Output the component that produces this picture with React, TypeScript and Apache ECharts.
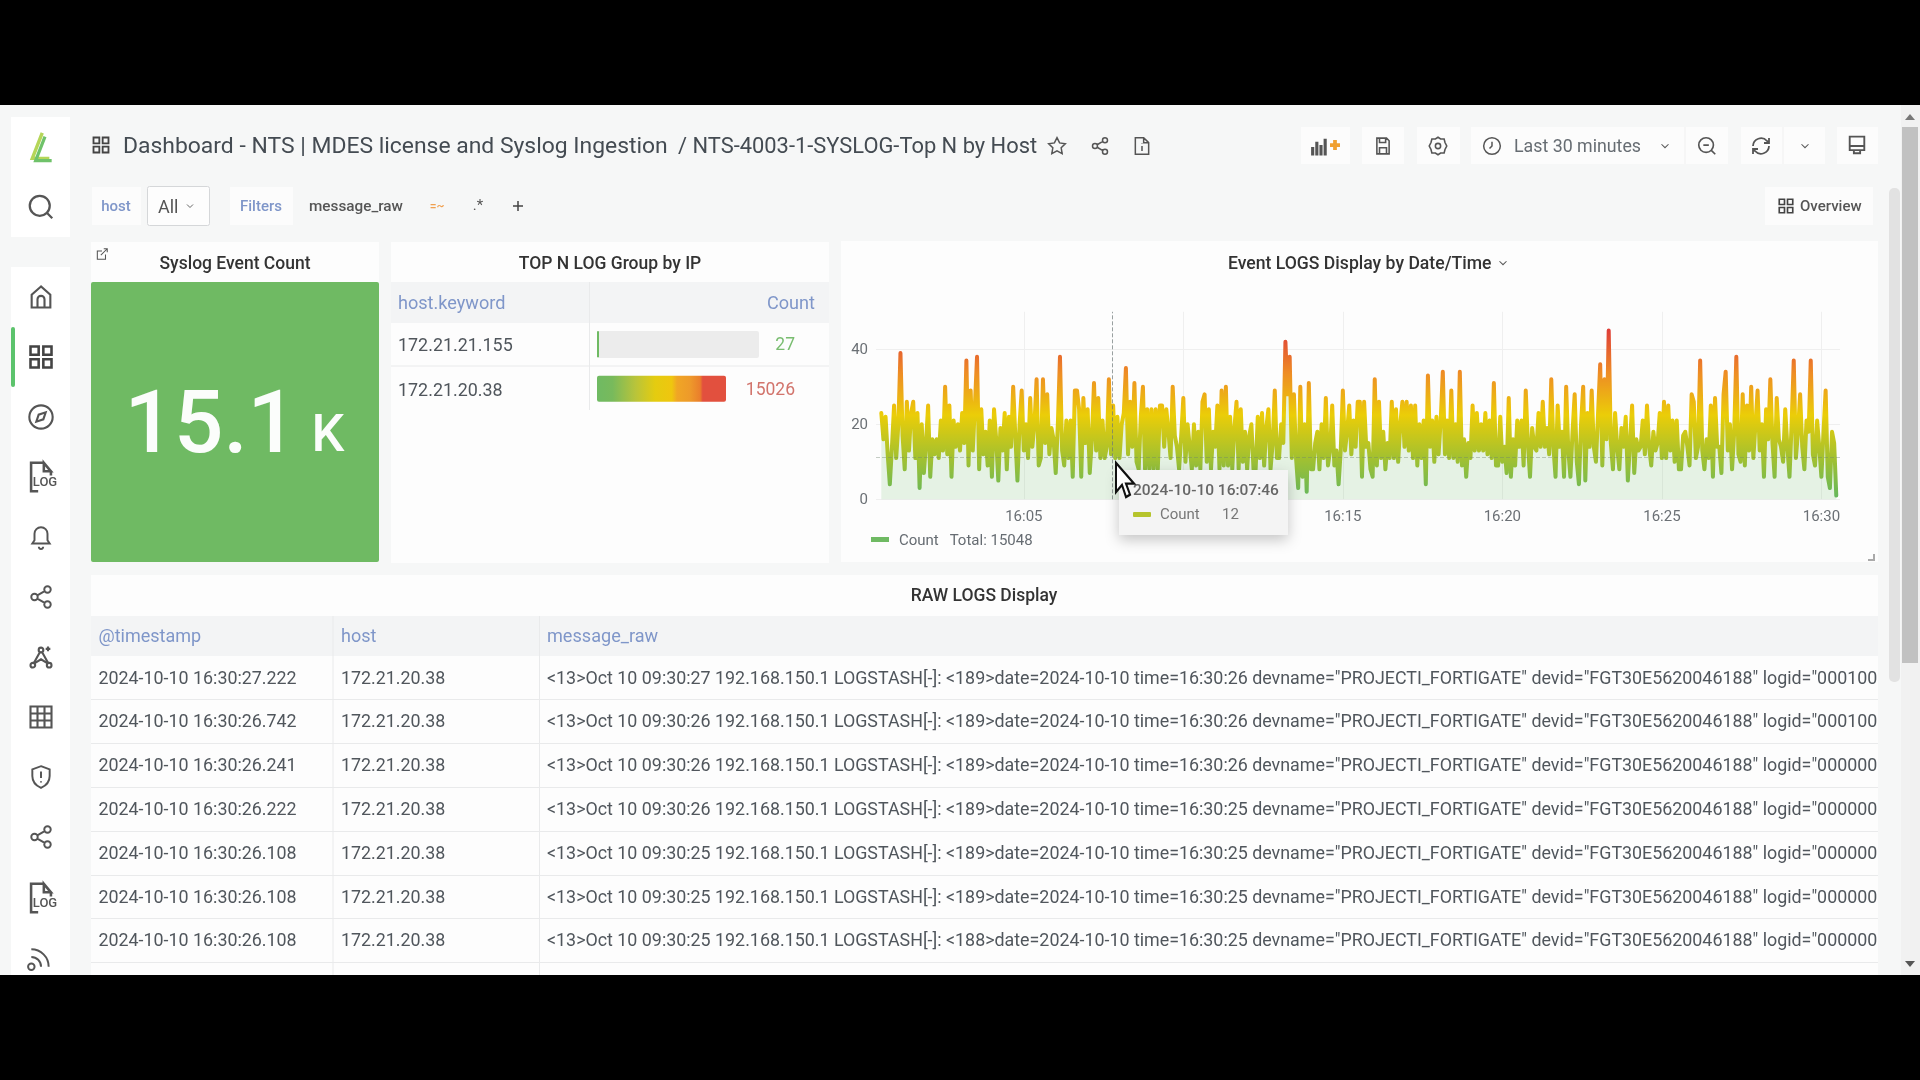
import React, { useEffect, useRef } from "react";
import * as echarts from "echarts";

// Count per 4 s, one list per stretch of about five minutes.
const countsA = [23,16,22,12,4,14,25,11,20,39,17,8,26,13,23,26,11,23,3,20,7,15,25,6,16,12,16,11,21,13,30,12,25,6,21,14,20,13,23,15,37,9,29,13,25,38,8,24,12,18,9,21,6,24,16,5,19,13,23,8,22,14,30,17,5,20,29,13,20,11,27,14,20,32,9];
const countsB = [11,32,15,28,12,19,16,7,20,38,13,9,21,11,21,6,29,29,24,6,27,15,24,7,16,31,13,27,11,21,11,14,32,12,25,11,22,11,20,23,35,12,26,14,31,10,8,22,30,8,24,8,24,8,24,8,25,25,14,24,18,11,30,17,14,8,17,27,10,20,14,8,20,9,18];
const countsC = [8,26,28,10,24,8,18,14,25,8,29,9,30,9,22,8,19,26,8,24,10,18,8,17,20,8,8,22,11,23,9,19,24,8,15,29,11,11,20,15,42,28,38,11,28,11,3,30,6,20,2,31,8,8,15,18,8,20,11,27,9,13,25,9,13,4,13,29,13,18,25,12,21,14,26];
const countsD = [26,6,26,14,15,8,6,32,9,26,11,18,8,15,11,26,11,24,10,20,26,14,26,13,25,11,25,9,20,11,21,4,33,14,21,10,22,12,21,34,12,21,11,29,11,20,10,34,9,16,6,15,11,25,13,23,13,20,13,23,12,21,11,31,9,9,22,10,14,7,27,6,16,9,21];
const countsE = [14,21,9,29,15,6,19,14,13,23,14,26,14,19,12,32,14,6,25,14,18,6,30,13,6,18,28,10,4,20,30,5,23,14,29,14,10,23,36,9,32,16,45,15,8,23,14,8,19,14,22,5,15,25,7,16,13,14,21,12,25,14,9,18,13,15,23,11,26,11,25,13,21,10,21,8];
const countsF = [8,17,18,14,9,28,26,11,14,37,13,8,16,11,25,6,27,14,14,7,28,34,13,20,8,18,38,12,10,28,9,25,13,30,11,20,29,13,20,6,24,16,32,15,6,27,16,14,10,24,14,6,20,37,11,18,28,14,8,21,18,37,12,9,21,14,6,18,29,6,3,18,15,1];
const yTicks = { min: 0, max: 50, interval: 20 };
const gridMinutes = [5, 10, 15, 20, 25, 30];
const labelMinutes = [5, 15, 20, 25, 30]; // 16:10 lies under the tooltip in the picture
const hosts = ["172.21.21.155", "172.21.20.38"];
const hostCounts = [27, 15026];
const logStamps = ["2024-10-10 16:30:27.222","2024-10-10 16:30:26.742","2024-10-10 16:30:26.241","2024-10-10 16:30:26.222","2024-10-10 16:30:26.108","2024-10-10 16:30:26.108","2024-10-10 16:30:26.108"];
const logMessages = [
 '<13>Oct 10 09:30:27 192.168.150.1 LOGSTASH[-]: <189>date=2024-10-10 time=16:30:26 devname="PROJECTI_FORTIGATE" devid="FGT30E5620046188" logid="000100',
 '<13>Oct 10 09:30:26 192.168.150.1 LOGSTASH[-]: <189>date=2024-10-10 time=16:30:26 devname="PROJECTI_FORTIGATE" devid="FGT30E5620046188" logid="000100',
 '<13>Oct 10 09:30:26 192.168.150.1 LOGSTASH[-]: <189>date=2024-10-10 time=16:30:26 devname="PROJECTI_FORTIGATE" devid="FGT30E5620046188" logid="000000',
 '<13>Oct 10 09:30:26 192.168.150.1 LOGSTASH[-]: <189>date=2024-10-10 time=16:30:25 devname="PROJECTI_FORTIGATE" devid="FGT30E5620046188" logid="000000',
 '<13>Oct 10 09:30:25 192.168.150.1 LOGSTASH[-]: <189>date=2024-10-10 time=16:30:25 devname="PROJECTI_FORTIGATE" devid="FGT30E5620046188" logid="000000',
 '<13>Oct 10 09:30:25 192.168.150.1 LOGSTASH[-]: <189>date=2024-10-10 time=16:30:25 devname="PROJECTI_FORTIGATE" devid="FGT30E5620046188" logid="000000',
 '<13>Oct 10 09:30:25 192.168.150.1 LOGSTASH[-]: <188>date=2024-10-10 time=16:30:25 devname="PROJECTI_FORTIGATE" devid="FGT30E5620046188" logid="000000',
];

const icons: Record<string, string> = {
  search: "M11 3a8 8 0 1 0 0 16a8 8 0 1 0 0-16zM21 21l-4.35-4.35",
  home: "M12 3L4 10v11h16V10zM9 21v-7a3 3 0 0 1 6 0v7",
  gridIcon: "M3 3h7v7H3zM14 3h7v7h-7zM14 14h7v7h-7zM3 14h7v7H3z",
  compass: "M12 2a10 10 0 1 0 0 20a10 10 0 1 0 0-20zM16 8l-2 6l-6 2l2-6z",
  logfile: "M14 2H5v20h5M14 2l5 6h-5zM19 8v3",
  bell: "M12 3a6 6 0 0 0-6 6v6l-2 3h16l-2-3V9a6 6 0 0 0-6-6zM10 21a2 2 0 0 0 4 0",
  share: "M18 2a3 3 0 1 0 0 6a3 3 0 1 0 0-6zM6 9a3 3 0 1 0 0 6a3 3 0 1 0 0-6zM18 16a3 3 0 1 0 0 6a3 3 0 1 0 0-6zM8.6 13.5l6.8 4M15.4 6.5l-6.8 4",
  graphIcon: "M12 4a2 2 0 1 0 0 4a2 2 0 1 0 0-4zM5 17a2 2 0 1 0 0 4a2 2 0 1 0 0-4zM19 17a2 2 0 1 0 0 4a2 2 0 1 0 0-4zM11 8l-5 9M13 8l5 9M7 17l5-3l5 3M18 3v4M16 5h4",
  tableIcon: "M3 3h18v18H3zM3 9h18M3 15h18M9 3v18M15 3v18",
  shield: "M12 2l8 3v6c0 5-3.5 9-8 11c-4.5-2-8-6-8-11V5zM12 7v6M12 16v1",
  rss: "M4 11a9 9 0 0 1 9 9M4 4a16 16 0 0 1 16 16M4 17a3 3 0 1 0 0 6a3 3 0 1 0 0-6z",
  star: "M12 2l3.1 6.3l6.9 1l-5 4.9l1.2 6.9l-6.2-3.3l-6.2 3.3l1.2-6.9l-5-4.9l6.9-1z",
  fileinfo: "M14 2H4v20h16V8zM14 2v6h6M12 12v6M12 9v.5",
  clock: "M12 2a10 10 0 1 0 0 20a10 10 0 1 0 0-20zM12 7v5l-3 3",
  zoomout: "M11 3a8 8 0 1 0 0 16a8 8 0 1 0 0-16zM21 21l-4-4M8 11h6",
  refresh: "M4 12a8 8 0 0 1 14-5l2 2M20 4v5h-5M20 12a8 8 0 0 1-14 5l-2-2M4 20v-5h5",
  monitor: "M5 3h14v13H5zM5 12h14M9 16v3h6v-3",
  save: "M5 3h11l3 3v15H5zM8 3v5h7V3M8 21v-7h8v7",
  gear: "M12 2l3 2h4l1 4l2 4l-2 4l-1 4h-4l-3 2l-3-2H5l-1-4l-2-4l2-4l1-4h4zM12 9a3 3 0 1 0 0 6a3 3 0 1 0 0-6z",
  chev: "M6 9l6 6l6-6",
  external: "M18 13v8H4V7h8M15 3h6v6M10 14L21 3",
  bars: "M4 21V13M8 21V8M12 21V11M16 21V5",
  plus: "M12 4v16M4 12h16",
  cursor: "M0 0V24L6 18L10 28L14 26L10 17H18z",
  logo: "M15 2L8 20H20",
};
Object.keys(icons).forEach((k) => {
  echarts.graphic.registerShape("ic_" + k, echarts.graphic.extendPath(icons[k], {}));
});

const FONT = "Roboto";
const INK = "#4a4f55";
const LINK = "#7f96c9";
const PAGE = "#f6f7f7";
const PANEL = "#fdfdfd";

function txt(text: string, x: number, y: number, size: number, fill = INK, opt: any = {}) {
  const { align = "left", weight = 400, z = -1 } = opt;
  return { type: "text", x, y, z, silent: true, style: { text, fontSize: size, fontFamily: FONT, fontWeight: weight, fill, align, verticalAlign: "middle" } };
}
function box(x: number, y: number, w: number, h: number, fill: string, opt: any = {}) {
  const { r = 0, z = -1, stroke, shadow } = opt;
  return { type: "rect", z, silent: true, shape: { x, y, width: w, height: h, r },
    style: { fill, stroke, lineWidth: stroke ? 1 : 0, ...(shadow ? { shadowBlur: 14, shadowColor: "rgba(0,0,0,0.22)", shadowOffsetY: 5 } : {}) } };
}
function ic(name: string, cx: number, cy: number, size: number, stroke = "#555", lw = 1.8, opt: any = {}) {
  const s = size / 24;
  const { z = -1, fill = "none", sy = s } = opt;
  return { type: "ic_" + name, z, silent: true, x: cx - size / 2, y: cy - (24 * sy) / 2, scaleX: s, scaleY: sy, style: { fill, stroke, lineWidth: lw } };
}
function hline(x1: number, x2: number, y: number, c = "#e9eaeb", z = -1) {
  return { type: "line", z, silent: true, shape: { x1, y1: y, x2, y2: y }, style: { stroke: c, lineWidth: 1 } };
}
function vline(x: number, y1: number, y2: number, c = "#e9eaeb", z = -1) {
  return { type: "line", z, silent: true, shape: { x1: x, y1, x2: x, y2 }, style: { stroke: c, lineWidth: 1 } };
}

function buildGraphics() {
  const e: any[] = [];
  e.push(box(0, 0, 1920, 1080, PAGE));
  // sidebar
  e.push(box(11, 117, 59, 120, "#ffffff"));
  e.push(box(11, 267, 59, 720, "#ffffff"));
  e.push(box(11, 327, 4, 60, "#5cc36c", { r: 2 }));
  e.push(ic("logo", 38, 147, 34, "#b5d658", 2.4));
  e.push(ic("logo", 41, 150, 32, "#6fc26a", 2.4));
  e.push(ic("search", 41, 207, 30));
  e.push(ic("home", 41, 297, 28));
  e.push(ic("gridIcon", 41, 357, 28, "#444", 2.2));
  e.push(ic("compass", 41, 417, 28));
  e.push(ic("logfile", 41, 477, 34));
  e.push(txt("LOG", 45, 481, 13, "#555", { align: "center", weight: 500 }));
  e.push(ic("bell", 41, 537, 26));
  e.push(ic("share", 41, 597, 26));
  e.push(ic("graphIcon", 41, 657, 28));
  e.push(ic("tableIcon", 41, 717, 28));
  e.push(ic("shield", 41, 777, 26));
  e.push(ic("share", 41, 837, 26));
  e.push(ic("logfile", 41, 898, 34));
  e.push(txt("LOG", 45, 902, 13, "#555", { align: "center", weight: 500 }));
  e.push(ic("rss", 40, 958, 26));
  // title bar
  e.push(ic("gridIcon", 101, 145, 20, "#444", 2.2));
  e.push(txt("Dashboard - NTS | MDES license and Syslog Ingestion", 123, 145, 22.9, "#444b52"));
  e.push(txt("/ NTS-4003-1-SYSLOG-Top N by Host", 678, 145, 21.9, "#444b52"));
  e.push(ic("star", 1057, 146, 20));
  e.push(ic("share", 1100, 146, 20));
  e.push(ic("fileinfo", 1142, 146, 20));
  // toolbar
  [[1301, 49], [1362, 42], [1417, 43], [1471, 257], [1741, 84], [1837, 41]].forEach(([x, w]) => e.push(box(x, 127, w, 37, "#fcfcfc")));
  e.push(vline(1685, 127, 164, "#f0f0f0"));
  e.push(vline(1783, 127, 164, "#f0f0f0"));
  e.push(ic("bars", 1321, 146, 25, "#555", 3));
  e.push(ic("plus", 1335, 145, 15, "#f0a030", 6));
  e.push(ic("save", 1383, 146, 21));
  e.push(ic("gear", 1438, 146, 21));
  e.push(ic("clock", 1492, 146, 20));
  e.push(txt("Last 30 minutes", 1514, 145, 17.8, "#666c72"));
  e.push(ic("chev", 1665, 146, 14));
  e.push(ic("zoomout", 1707, 146, 22));
  e.push(ic("refresh", 1761, 146, 24));
  e.push(ic("chev", 1805, 146, 14));
  e.push(ic("monitor", 1857, 146, 25));
  // filter row
  e.push(box(92, 187, 49, 38, "#fcfcfc"));
  e.push(txt("host", 116, 206, 15, LINK, { align: "center", weight: 500 }));
  e.push(box(147.5, 186.5, 62, 39, "#fdfdfd", { stroke: "#d5d7d9", r: 2 }));
  e.push(txt("All", 158, 206, 18, "#555"));
  e.push(ic("chev", 190, 206, 12));
  e.push(box(230, 187, 63, 38, "#fcfcfc"));
  e.push(txt("Filters", 261, 206, 15, LINK, { align: "center", weight: 500 }));
  e.push(txt("message_raw", 309, 206, 15.3, "#555", { weight: 500 }));
  e.push(txt("=~", 437, 206, 12, "#f0a050", { align: "center", weight: 500 }));
  e.push(txt(".*", 478, 205, 15, "#555", { align: "center" }));
  e.push(ic("plus", 518, 206, 15, "#444", 2.4));
  e.push(box(1765, 187, 108, 38, "#fcfcfc"));
  e.push(ic("gridIcon", 1786, 206, 18, "#444", 2.2));
  e.push(txt("Overview", 1800, 206, 15, "#555", { weight: 500 }));
  // panel: stat
  e.push(box(91, 242, 288, 320, PANEL));
  e.push(box(91, 282, 288, 280, "#6fba63", { r: 2 }));
  e.push(ic("external", 102, 254, 14));
  e.push(txt("Syslog Event Count", 235, 263, 17.5, "#333", { align: "center", weight: 500 }));
  e.push(txt("15.1", 124.5, 422, 87, "#fbfdfb", { weight: 500 }));
  e.push(txt("K", 311.5, 433, 52, "#fbfdfb", { weight: 500 }));
  // panel: top N table
  e.push(box(391, 242, 438, 321, PANEL));
  e.push(txt("TOP N LOG Group by IP", 610, 263, 17.5, "#333", { align: "center", weight: 500 }));
  e.push(box(391, 282, 438, 41, "#f3f4f5"));
  e.push(txt("host.keyword", 398, 302, 18.1, LINK));
  e.push(txt("Count", 815, 302, 18.1, LINK, { align: "right" }));
  e.push(vline(589.5, 282, 410));
  e.push(hline(391, 829, 366));
  hosts.forEach((h, i) => {
    const y = i === 0 ? 344 : 389;
    e.push(txt(h, 398, y, 17.9, "#50565c"));
    e.push(txt(String(hostCounts[i]), 795, y, 17.5, i === 0 ? "#79bd70" : "#d2746c", { align: "right" }));
  });
  e.push(box(597, 331, 162, 27, "#ececec", { r: 2 }));
  // panel: timeseries
  e.push(box(841, 241, 1037, 321, PANEL));
  e.push(txt("Event LOGS Display by Date/Time", 1228, 263, 17.6, "#333", { weight: 500 }));
  e.push(ic("chev", 1503, 263, 14));
  e.push({ type: "polyline", z: -1, silent: true, shape: { points: [[1874, 554], [1874, 560], [1868, 560]] }, style: { stroke: "#aaa", lineWidth: 2, fill: "none" } });
  // panel: raw logs
  e.push(box(91, 575, 1787, 420, PANEL));
  e.push(txt("RAW LOGS Display", 984, 595, 17.5, "#333", { align: "center", weight: 500 }));
  e.push(box(91, 616, 1787, 40, "#f3f4f5"));
  e.push(txt("@timestamp", 98.5, 635, 18, LINK));
  e.push(txt("host", 341, 635, 18, LINK));
  e.push(txt("message_raw", 547, 635, 18.1, LINK));
  e.push(vline(333, 616, 975));
  e.push(vline(539.5, 616, 975));
  logStamps.forEach((s, i) => {
    const y = 677 + i * 43.8;
    e.push(txt(s, 98.5, y, 17.85, "#50565c"));
    e.push(txt(hosts[1], 341, y, 17.85, "#50565c"));
    e.push(txt(logMessages[i], 547, y, 17.85, "#50565c"));
    e.push(hline(91, 1878, Math.round(y + 22.3) + 0.5));
  });
  // scrollbars
  e.push(box(1889, 188, 11, 494, "#e2e2e2", { r: 5 }));
  e.push(box(1901, 105, 19, 870, "#f1f1f1"));
  e.push(box(1902, 127, 16, 536, "#c1c1c1"));
  e.push({ type: "polygon", z: -1, silent: true, shape: { points: [[1905, 120], [1910, 114], [1915, 120]] }, style: { fill: "#777" } });
  e.push({ type: "polygon", z: -1, silent: true, shape: { points: [[1905, 961], [1910, 967], [1915, 961]] }, style: { fill: "#555" } });
  // tooltip and pointer above the series
  e.push(box(1119, 470, 169, 65, "#f4f4f4", { z: 40, shadow: true }));
  e.push(txt("2024-10-10 16:07:46", 1133, 490, 15.5, "#666", { z: 41, weight: 500 }));
  e.push(box(1133, 512, 18, 5, "#b6c42c", { z: 41, r: 1 }));
  e.push(txt("Count", 1160, 514, 15, "#777", { z: 41 }));
  e.push(txt("12", 1222, 514, 15, "#777", { z: 41 }));
  e.push(ic("cursor", 1128, 477.5, 24, "#111", 2, { z: 42, fill: "#ffffff", sy: 1.22 }));
  // letterbox
  e.push(box(0, 0, 1920, 105, "#000000", { z: 60 }));
  e.push(box(0, 975, 1920, 105, "#000000", { z: 60 }));
  return e;
}

export default function App() {
  const ref = useRef<HTMLDivElement>(null);
  useEffect(() => {
    document.body.style.margin = "0";
    document.body.style.background = "#000";
    const chart = echarts.init(ref.current!, null, { renderer: "svg" });
    const all = [...countsA, ...countsB, ...countsC, ...countsD, ...countsE, ...countsF];
    const at = (m: number, s = 0) => new Date(2024, 9, 10, 16, m, s).getTime();
    const start = at(0, 32);
    const points = all.map((v, i) => [start + i * 4000, v]);
    chart.setOption({
      animation: false,
      backgroundColor: "transparent",
      textStyle: { fontFamily: FONT },
      graphic: { elements: buildGraphics() },
      grid: [
        { left: 876, top: 311.8, width: 964, height: 187.5, containLabel: false },
        { left: 597, top: 322, width: 162, height: 89, containLabel: false },
      ],
      xAxis: [
        {
          type: "value", gridIndex: 0, min: at(0, 22), max: at(30, 35),
          axisLine: { show: false },
          axisTick: { show: false, customValues: gridMinutes.map((m) => at(m)) },
          splitLine: { show: true, lineStyle: { color: "#efefef", width: 1 } },
          axisLabel: {
            color: "#6b7075", fontSize: 15, margin: 9, fontFamily: FONT, customValues: labelMinutes.map((m) => at(m)), hideOverlap: false,
            formatter: (v: number) => { const d = new Date(v); return String(d.getHours()).padStart(2, "0") + ":" + String(d.getMinutes()).padStart(2, "0"); },
          },
        },
        { type: "value", gridIndex: 1, min: 0, max: 18870, show: false },
      ],
      yAxis: [
        {
          type: "value", gridIndex: 0, min: yTicks.min, max: yTicks.max, interval: yTicks.interval,
          axisLine: { show: false }, axisTick: { show: false },
          splitLine: { show: true, lineStyle: { color: "#efefef", width: 1 }, showMaxLine: false },
          axisLabel: { color: "#6b7075", fontSize: 15, margin: 8, fontFamily: FONT, showMaxLabel: false },
        },
        { type: "category", gridIndex: 1, data: hosts, inverse: true, show: false },
      ],
      visualMap: {
        show: false, type: "continuous", seriesIndex: 0, dimension: 1, min: 0, max: 45,
        inRange: { color: ["#62b75e", "#a4c12f", "#ebcd08", "#ee8c25", "#df3f38"] },
      },
      legend: {
        show: true, left: 871, top: 532, padding: 0, icon: "rect", itemWidth: 18, itemHeight: 5, data: ["Count"],
        itemStyle: { color: "#6fba63" },
        textStyle: { color: "#666c72", fontSize: 15, fontFamily: FONT, padding: [0, 0, 0, 5] },
        formatter: () => "Count   Total: 15048",
      },
      series: [
        {
          type: "line", name: "Count", xAxisIndex: 0, yAxisIndex: 0, data: points, showSymbol: false, symbol: "none",
          lineStyle: { width: 4, join: "round", cap: "round" },
          areaStyle: { color: "rgba(115,191,105,0.17)", opacity: 1 },
          markLine: {
            silent: true, symbol: "none", label: { show: false }, animation: false,
            data: [
              { xAxis: at(7, 46), lineStyle: { color: "rgba(110,120,120,0.7)", type: "dashed", width: 1 } },
              { yAxis: 11.2, lineStyle: { color: "rgba(110,130,110,0.4)", type: "dashed", width: 1 } },
            ],
          },
          z: 2,
        },
        {
          type: "bar", name: "Hosts", xAxisIndex: 1, yAxisIndex: 1, barWidth: 26, barMinHeight: 2, z: 3,
          data: [
            { value: hostCounts[0], itemStyle: { color: "#6fba63" } },
            {
              value: hostCounts[1],
              itemStyle: {
                borderRadius: 2,
                color: new echarts.graphic.LinearGradient(0, 0, 1, 0, [
                  { offset: 0, color: "#6fba63" }, { offset: 0.12, color: "#78ba5c" }, { offset: 0.3, color: "#b9c43a" },
                  { offset: 0.45, color: "#e4cc10" }, { offset: 0.58, color: "#efc60f" }, { offset: 0.62, color: "#f0a625" },
                  { offset: 0.72, color: "#ee9a2a" }, { offset: 0.8, color: "#ea7e2c" }, { offset: 0.82, color: "#e2503e" }, { offset: 1, color: "#e2503e" },
                ]),
              },
            },
          ],
        },
      ],
    });
    return () => chart.dispose();
  }, []);
  return <div ref={ref} style={{ position: "fixed", left: 0, top: 0, width: 1920, height: 1080 }} />;
}
